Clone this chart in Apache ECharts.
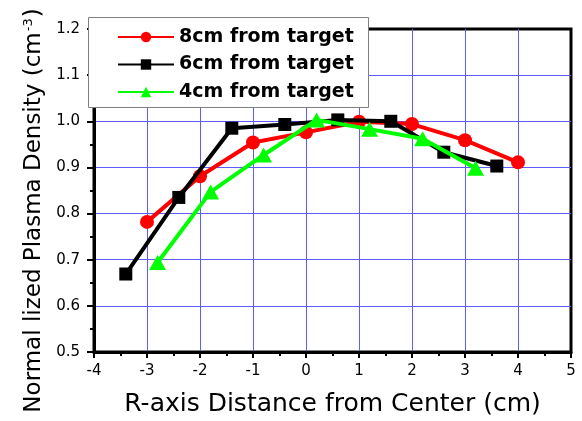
<!DOCTYPE html>
<html>
<head>
<meta charset="utf-8">
<script src="https://cdn.jsdelivr.net/npm/echarts@6/dist/echarts.min.js"></script>
<style>
html,body{margin:0;padding:0;background:#fff;}
#chart{width:582px;height:421px;}
</style>
</head>
<body>
<div id="chart"></div>
<script>
// ---- data ----
var seriesNames = ['8cm from target', '6cm from target', '4cm from target'];
var xRed   = [-3, -2, -1, 0, 1, 2, 3, 4];
var yRed   = [0.782, 0.881, 0.954, 0.976, 0.999, 0.994, 0.959, 0.911];
var xBlack = [-3.4, -2.4, -1.4, -0.4, 0.6, 1.6, 2.6, 3.6];
var yBlack = [0.669, 0.835, 0.985, 0.993, 1.003, 1.0, 0.933, 0.903];
var xGreen = [-2.8, -1.8, -0.8, 0.2, 1.2, 2.2, 3.2];
var yGreen = [0.694, 0.847, 0.927, 1.003, 0.983, 0.962, 0.898];
var xTicks = [-4, -3, -2, -1, 0, 1, 2, 3, 4, 5];
var yTicks = [0.5, 0.6, 0.7, 0.8, 0.9, 1.0, 1.1, 1.2];
var xTitle = 'R-axis Distance from Center (cm)';
var yTitleMain = 'Normal lized Plasma Density (cm';
var yTitleSup = '-3';

function pairs(xs, ys) { return xs.map(function (x, i) { return [x, ys[i]]; }); }

var FONT = 'DejaVu Sans';
var chart = echarts.init(document.getElementById('chart'), null, {renderer: 'canvas'});
var option = {
  animation: false,
  backgroundColor: '#fff',
  grid: {left: 94, right: 11, top: 29, bottom: 69, show: true, borderColor: '#000', borderWidth: 3,
         backgroundColor: 'transparent', containLabel: false, outerBoundsMode: 'none'},
  xAxis: {
    type: 'value', min: xTicks[0], max: xTicks[xTicks.length - 1], interval: 1,
    name: xTitle, nameLocation: 'middle', nameGap: 40,
    nameTextStyle: {fontFamily: FONT, fontSize: 25, color: '#000'},
    axisLine: {show: true, onZero: false, lineStyle: {color: '#000', width: 3}},
    axisTick: {show: true, length: 6, lineStyle: {color: '#000', width: 2}},
    minorTick: {show: true, splitNumber: 2, length: 4, lineStyle: {color: '#000', width: 2}},
    axisLabel: {fontFamily: FONT, fontSize: 15, color: '#000', margin: 12},
    splitLine: {show: true, showMinLine: false, showMaxLine: false, lineStyle: {color: '#5c5cff', width: 1}}
  },
  yAxis: {
    type: 'value', min: yTicks[0], max: yTicks[yTicks.length - 1], interval: 0.1,
    name: '{a|' + yTitleMain + '}{s|' + yTitleSup + '}{a|)}', nameLocation: 'middle', nameGap: 46,
    nameTextStyle: {fontFamily: FONT, fontSize: 23, color: '#000', padding: [0, 40, 0, 0],
      rich: {a: {fontFamily: FONT, fontSize: 23, color: '#000'},
             s: {fontFamily: FONT, fontSize: 13, color: '#000', verticalAlign: 'top', padding: [0, 1, 0, 1]}}},
    axisLine: {show: true, onZero: false, lineStyle: {color: '#000', width: 3}},
    axisTick: {show: true, length: 7, lineStyle: {color: '#000', width: 2}},
    minorTick: {show: true, splitNumber: 2, length: 4, lineStyle: {color: '#000', width: 2}},
    axisLabel: {fontFamily: FONT, fontSize: 15, color: '#000', margin: 14,
      formatter: function (v) { return v.toFixed(1); }},
    splitLine: {show: true, showMinLine: false, showMaxLine: false, lineStyle: {color: '#5c5cff', width: 1}}
  },
  legend: {
    show: true, left: 117, top: 27, orient: 'vertical', padding: 0,
    itemWidth: 56, itemHeight: 13, itemGap: 7.5, z: 20,
    textStyle: {fontFamily: FONT, fontSize: 19, fontWeight: 'bold', color: '#000', lineHeight: 20},
    data: seriesNames
  },
  graphic: [{
    type: 'rect', z: 15, left: 88, top: 17,
    shape: {width: 280, height: 90},
    style: {fill: '#fff', stroke: '#808080', lineWidth: 1}
  }],
  series: [
    {name: seriesNames[0], type: 'line', data: pairs(xRed, yRed), symbol: 'circle', symbolSize: 14,
     lineStyle: {color: '#ff0000', width: 4}, itemStyle: {color: '#ff0000'}, z: 3},
    {name: seriesNames[1], type: 'line', data: pairs(xBlack, yBlack), symbol: 'rect', symbolSize: 13,
     lineStyle: {color: '#000000', width: 4}, itemStyle: {color: '#000000'}, z: 4},
    {name: seriesNames[2], type: 'line', data: pairs(xGreen, yGreen), symbol: 'triangle', symbolSize: [17, 15],
     lineStyle: {color: '#00ff00', width: 4}, itemStyle: {color: '#00ff00'}, z: 5}
  ]
};
chart.setOption(option);
</script>
</body>
</html>
